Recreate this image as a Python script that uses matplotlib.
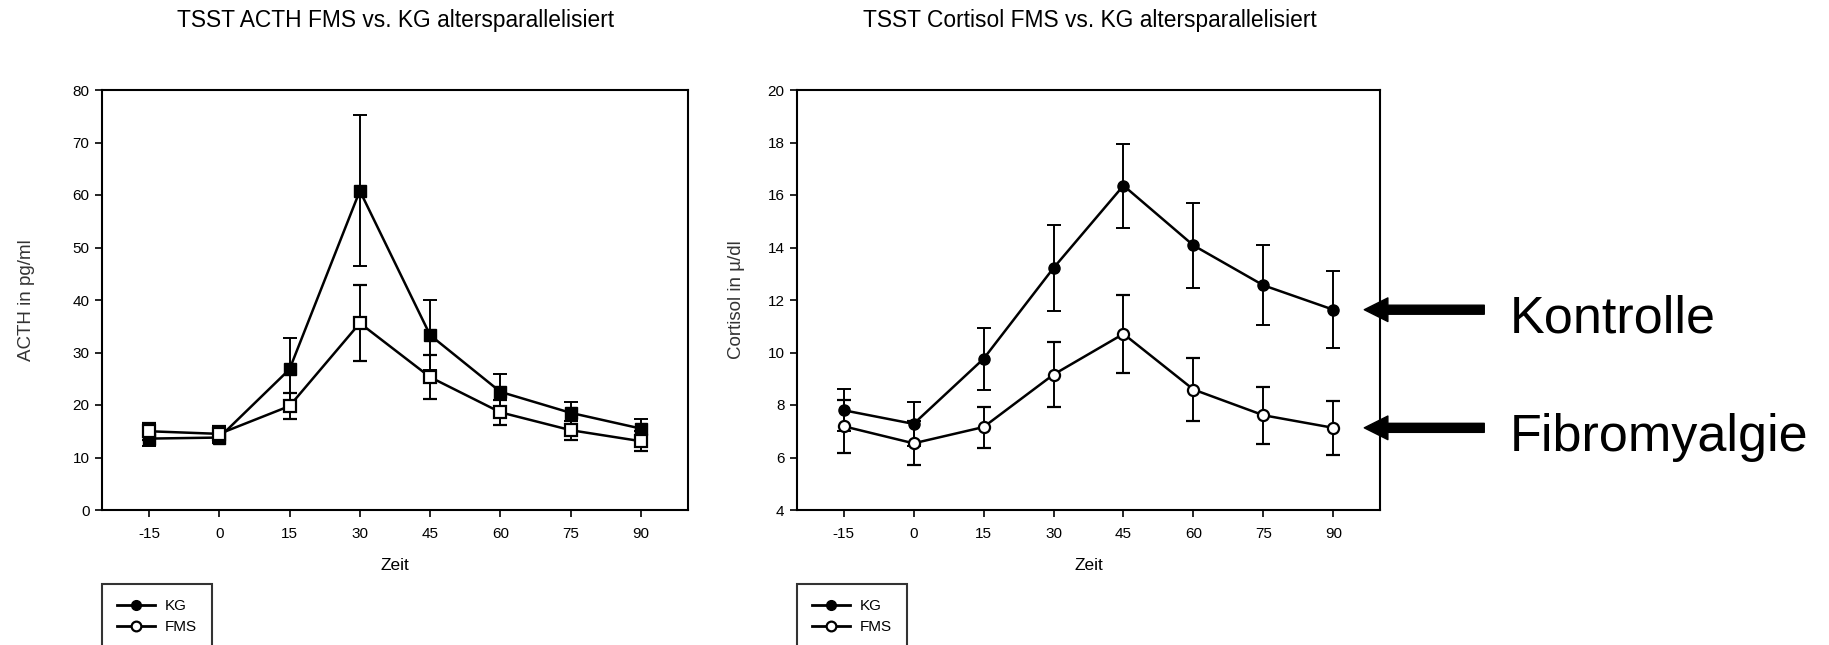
import matplotlib
matplotlib.use("Agg")
import matplotlib.pyplot as plt
import matplotlib.transforms as mtransforms
from matplotlib.lines import Line2D

plt.rcParams['font.family'] = ['Liberation Sans', 'DejaVu Sans']
plt.rcParams['axes.unicode_minus'] = False

# Messzeitpunkte (min)
zeit = [-15, 0, 15, 30, 45, 60, 75, 90]

# ACTH in pg/ml
acth_kg = [13.6, 13.8, 26.8, 60.8, 33.3, 22.5, 18.5, 15.5]
acth_kg_err = [1.4, 1.0, 6.0, 14.4, 6.7, 3.4, 2.1, 1.9]
acth_fms = [15.0, 14.5, 19.8, 35.6, 25.3, 18.6, 15.2, 13.1]
acth_fms_err = [1.6, 1.5, 2.4, 7.2, 4.2, 2.4, 1.8, 1.9]

# Cortisol in µ/dl
cort_kg = [7.80, 7.28, 9.76, 13.22, 16.36, 14.08, 12.56, 11.63]
cort_kg_err = [0.80, 0.84, 1.18, 1.65, 1.60, 1.62, 1.53, 1.46]
cort_fms = [7.19, 6.54, 7.16, 9.16, 10.71, 8.59, 7.61, 7.13]
cort_fms_err = [1.00, 0.84, 0.78, 1.25, 1.48, 1.20, 1.08, 1.02]

acth_yticks = list(range(0, 81, 10))
cort_yticks = list(range(4, 21, 2))
gruppen = ['KG', 'FMS']


def zeichne(ax, kg, kg_err, fms, fms_err, marker):
    # KG: gefuellte Symbole, FMS: offene Symbole
    ax.errorbar(zeit, kg, yerr=kg_err, color='black', lw=1.8, elinewidth=1.4,
                capsize=5, capthick=1.4, marker=marker, ms=8,
                mfc='black', mec='black', zorder=3)
    ax.errorbar(zeit, fms, yerr=fms_err, color='black', lw=1.8, elinewidth=1.4,
                capsize=5, capthick=1.4, marker=marker, ms=8,
                mfc='white', mec='black', mew=1.6, zorder=4)
    ax.set_xlim(-25, 100)
    ax.set_xticks(zeit)
    ax.tick_params(direction='out', length=5, width=1.2, labelsize=11, colors='black')
    ax.tick_params(axis='x', pad=7)
    ax.tick_params(axis='y', pad=4)
    for s in ax.spines.values():
        s.set_linewidth(1.5)
    ax.set_xlabel('Zeit', fontsize=12.5)
    ax.xaxis.set_label_coords(0.5, -0.115)


def main():
    fig = plt.figure(figsize=(18.29, 6.45), dpi=100)
    ax1 = fig.add_axes([102 / 1829, 135 / 645, 586 / 1829, 420 / 645])
    ax2 = fig.add_axes([797 / 1829, 135 / 645, 583 / 1829, 420 / 645])

    # ACTH
    zeichne(ax1, acth_kg, acth_kg_err, acth_fms, acth_fms_err, 's')
    ax1.set_ylim(0, 80)
    ax1.set_yticks(acth_yticks)
    ax1.set_ylabel('ACTH in pg/ml', fontsize=13.5, color='#333333')
    ax1.yaxis.set_label_coords(-0.115, 0.5)

    # Cortisol
    zeichne(ax2, cort_kg, cort_kg_err, cort_fms, cort_fms_err, 'o')
    ax2.set_ylim(4, 20)
    ax2.set_yticks(cort_yticks)
    ax2.set_ylabel('Cortisol in µ/dl', fontsize=13.5, color='#333333')
    ax2.yaxis.set_label_coords(-0.09, 0.5)

    # Titel
    fig.text(177 / 1829, 1 - 27 / 645, 'TSST ACTH FMS vs. KG altersparallelisiert',
             fontsize=16.4, va='baseline', ha='left')
    fig.text(863 / 1829, 1 - 27 / 645, 'TSST Cortisol FMS vs. KG altersparallelisiert',
             fontsize=16.4, va='baseline', ha='left')

    # Legenden unter den Diagrammen (Rahmen laeuft unten aus dem Bild)
    handles = [
        Line2D([], [], color='black', lw=2, marker='o', ms=7, mfc='black', mec='black'),
        Line2D([], [], color='black', lw=2, marker='o', ms=7, mfc='white', mec='black', mew=1.6),
    ]
    for x0 in (102 / 1829, 797 / 1829):
        leg = fig.legend(handles, gruppen, loc='upper left', bbox_to_anchor=(x0, 1 - 584 / 645),
                         bbox_transform=fig.transFigure, borderaxespad=0, fontsize=11,
                         frameon=True, fancybox=False, edgecolor='black', handlelength=2.5,
                         handletextpad=0.6, borderpad=1.0, labelspacing=0.45)
        leg.get_frame().set_linewidth(1.5)

    # Pfeile mit Beschriftung am rechten Diagramm
    trans = mtransforms.blended_transform_factory(ax2.transAxes, ax2.transData)
    for wert, text in [(cort_kg[-1], 'Kontrolle'), (cort_fms[-1], 'Fibromyalgie')]:
        ax2.annotate('', xy=(0.973, wert), xycoords=trans,
                     xytext=(120, 0), textcoords='offset pixels',
                     arrowprops=dict(facecolor='black', edgecolor='black', width=6.5,
                                     headwidth=17, headlength=17, shrink=0),
                     annotation_clip=False)
        ax2.annotate(text, xy=(0.973, wert), xycoords=trans,
                     xytext=(145, -23), textcoords='offset pixels',
                     fontsize=37.5, ha='left', va='baseline', annotation_clip=False)

    fig.savefig('out.png', dpi=100)


if __name__ == "__main__":
    main()
